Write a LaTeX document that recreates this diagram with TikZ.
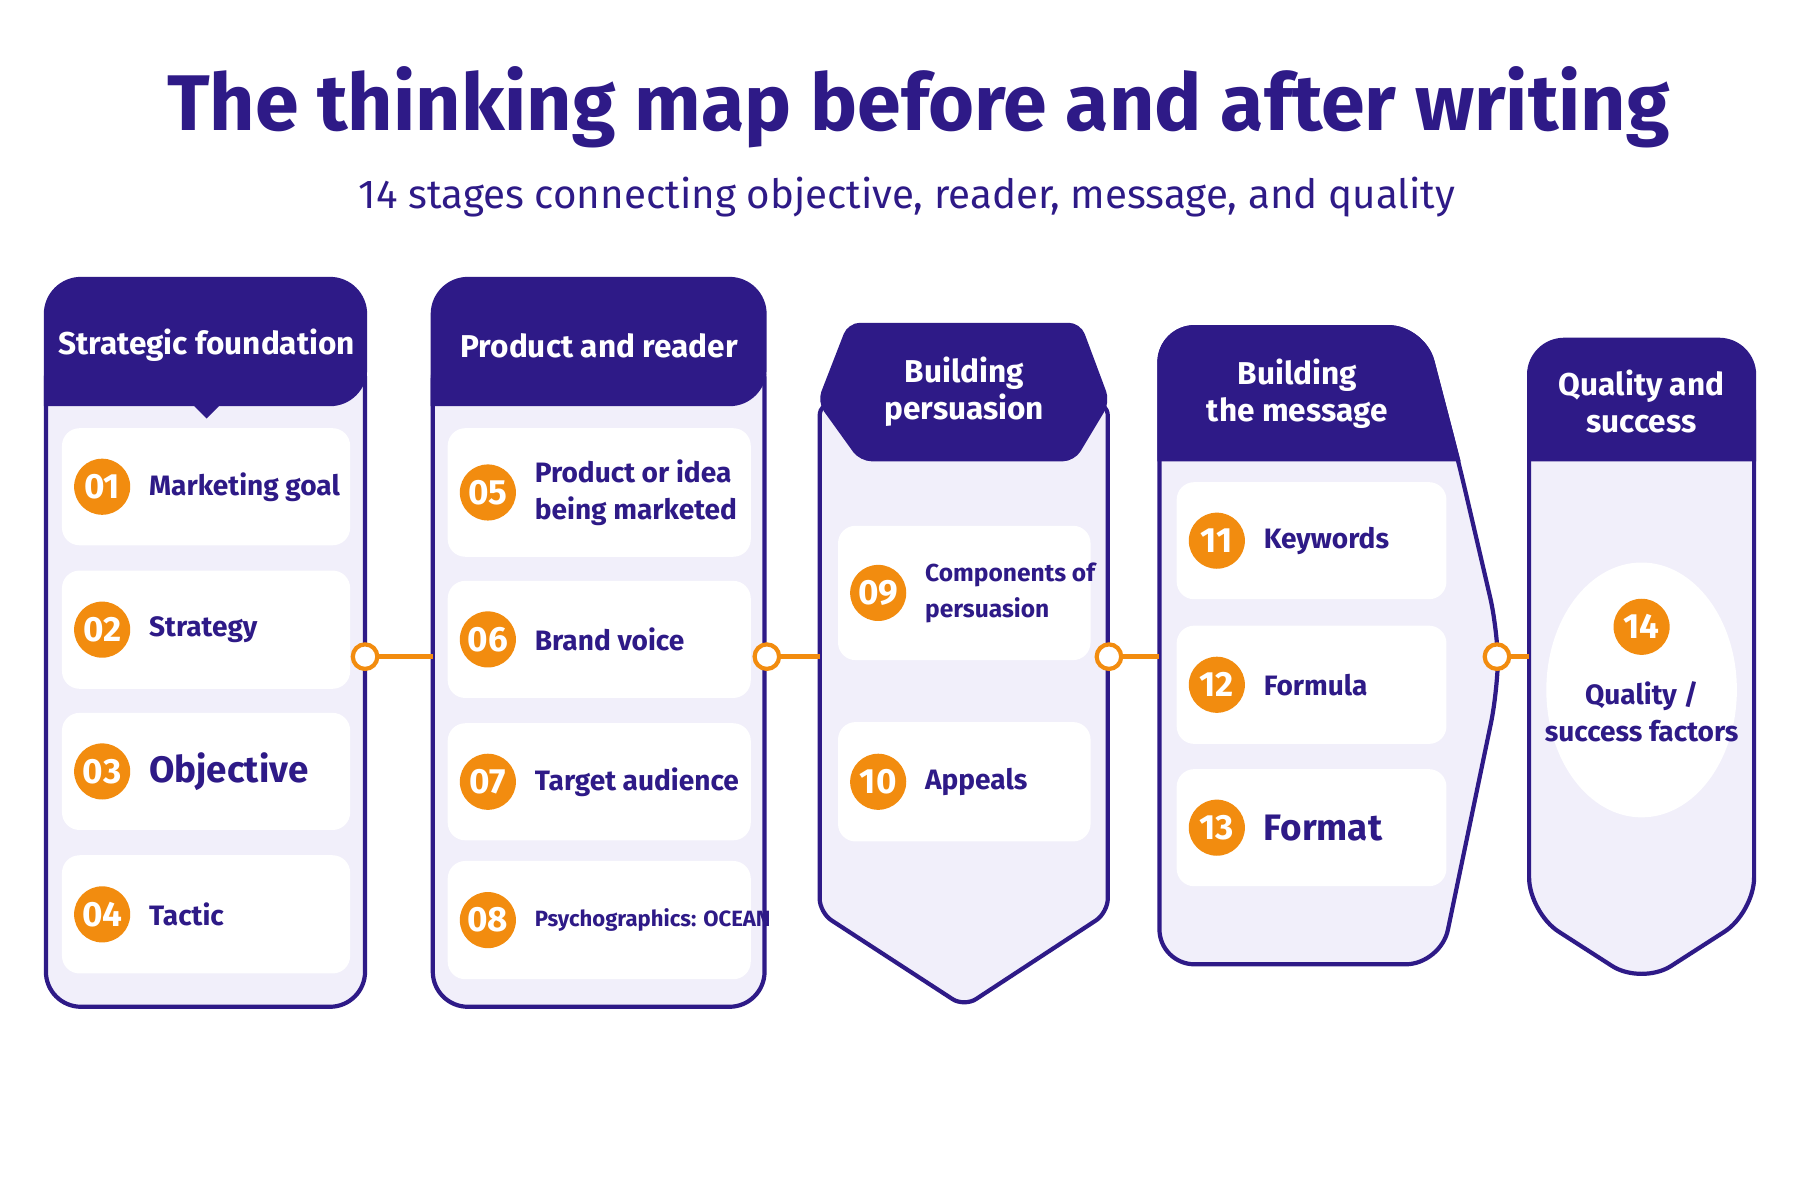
\documentclass[tikz,border=0pt]{standalone}
\usepackage{fontspec}
\setmainfont{Fira Sans}
\usetikzlibrary{positioning}
\definecolor{ink}{HTML}{2E1A87}
\definecolor{hot}{HTML}{F28C0F}
\definecolor{pane}{HTML}{F1EFFA}
\tikzset{
  panel/.style={draw=ink,line width=1.2pt,fill=pane},
  head/.style={fill=ink,draw=ink,line width=1.2pt},
  htext/.style={text=white,font=\fontsize{9}{10.5}\selectfont\bfseries,align=center},
  card/.style={fill=white,rounded corners=5pt},
  num/.style={circle,fill=hot,text=white,minimum size=16pt,inner sep=0pt,font=\fontsize{10}{10}\selectfont\bfseries},
  lbl/.style={text=ink,anchor=west,align=left,inner sep=1pt,font=\fontsize{#1}{10.5}\selectfont\bfseries},
  link/.style={hot,line width=1.4pt},
  dot/.style={circle,draw=hot,fill=white,line width=1.2pt,minimum size=7pt,inner sep=0pt}
}
\begin{document}
\begin{tikzpicture}[x=0.0115cm,y=-0.0115cm]
	\useasboundingbox[fill=white] (0,0) rectangle (1568,1045);
	% titles
	\node[text=ink,font=\fontsize{22.5}{26}\selectfont\bfseries] (title) at (800,93) {The thinking map before and after writing};
	\node[text=ink,font=\fontsize{11.5}{14}\selectfont] (sub) at (790,172) {14 stages connecting objective, reader, message, and quality};
	% column 1
	\draw[panel,rounded corners=10pt] (40,300) rectangle (318,877);
	\draw[head,rounded corners=10pt] (40,352) -- (40,243) -- (318,243) -- (318,352) [sharp corners]-- (190,352) -- (180,362) -- (170,352) -- cycle;
	\node[htext] (h1) at (180,301) {Strategic foundation};
	% column 2
	\draw[panel,rounded corners=10pt] (377,300) rectangle (666,877);
	\draw[head,rounded corners=10pt] (377,352) -- (377,243) -- (666,243) -- (666,352) [sharp corners]-- cycle;
	\node[htext] (h2) at (522,301) {Product and reader};
	% column 3
	\draw[panel,rounded corners=4pt] (714,350) -- (714,795) -- (840,877) -- (965,795) -- (965,350) -- cycle;
	\draw[head,rounded corners=3pt] (740,283) -- (940,283) -- (965,350) -- (935,400) -- (750,400) -- (714,350) -- cycle;
	\node[htext] (h3) at (840,341) {Building\\persuasion};
	% column 4
	\draw[panel,rounded corners=10pt] (1010,600) -- (1010,840) -- (1255,840) -- (1305,600) -- (1305,550) -- (1270,400) -- (1240,285) -- (1010,285) -- cycle;
	\draw[head,rounded corners=10pt] (1010,400) -- (1010,285) -- (1240,285) [sharp corners]-- (1270,400) -- cycle;
	\node[htext] (h4) at (1130,343) {Building\\the message};
	% column 5
	\draw[panel,rounded corners=10pt] (1332,330) -- (1332,795) -- (1430,858) -- (1528,795) -- (1528,330) -- cycle;
	\draw[head,rounded corners=10pt] (1332,400) -- (1332,296) -- (1528,296) [sharp corners]-- (1528,400) -- cycle;
	\node[htext] (h5) at (1430,350) {Quality and\\success};
	% cards
	\foreach \n/\x/\w/\y/\h/\f/\t in {01/54/251/373/102/8/Marketing goal,02/54/251/497/103/8/Strategy,03/54/251/621/102/10.5/Objective,04/54/251/745/103/8/Tactic,
		05/390/264/373/112/8/{Product or idea\\being marketed},06/390/264/506/102/8/Brand voice,07/390/264/630/102/8/Target audience,08/390/264/750/103/6.3/Psychographics: OCEAN,
		09/730/220/458/117/7/{Components of\\persuasion},10/730/220/629/104/8/Appeals,
		11/1025/235/420/102/8/Keywords,12/1025/235/545/103/8/Formula,13/1025/235/670/102/10.5/Format}{
		\fill[card] (\x,\y) rectangle ++(\w,\h);
		\node[num] (n\n) at (\x+35,\y+\h/2) {\n};
		\node[lbl=\f,right=4pt of n\n] (t\n) {\t};
	}
	\fill[white] (1430,601) ellipse (83 and 111);
	\node[num] (n14) at (1430,546) {14};
	\node[text=ink,align=center,font=\fontsize{8}{10.5}\selectfont\bfseries,below=4pt of n14] (t14) {Quality /\\success factors};
	% connectors
	\node[dot] (d1) at (318,572) {};
	\node[dot] (d2) at (668,572) {};
	\node[dot] (d3) at (966,572) {};
	\node[dot] (d4) at (1304,572) {};
	\coordinate (e1) at (377,572);
	\coordinate (e2) at (714,572);
	\coordinate (e3) at (1010,572);
	\coordinate (e4) at (1332,572);
	\foreach \i in {1,...,4} \draw[link] (d\i) -- (e\i);
\end{tikzpicture}
\end{document}
